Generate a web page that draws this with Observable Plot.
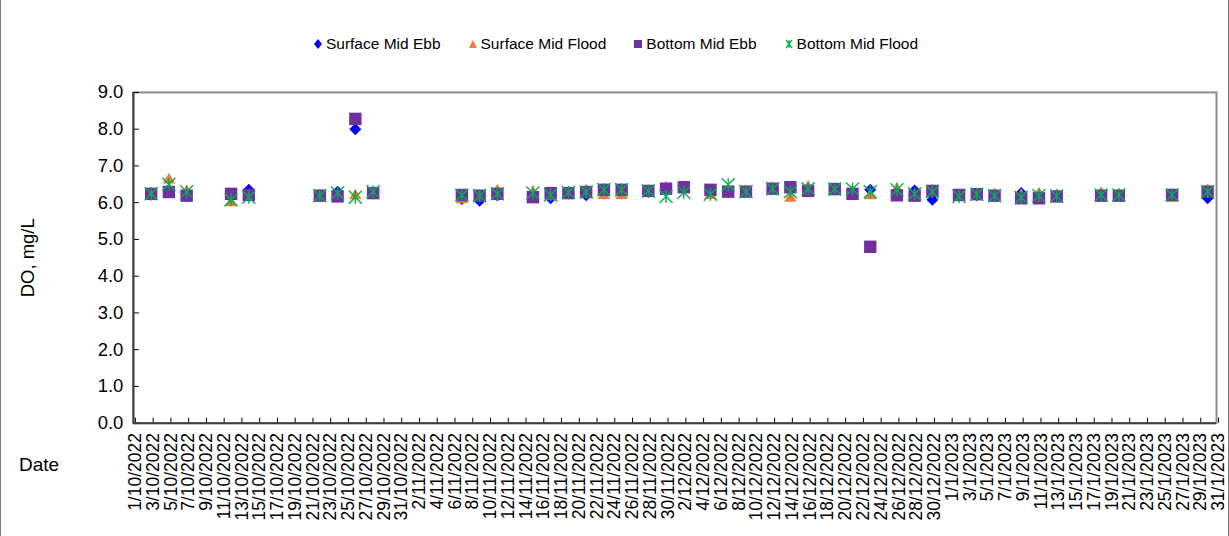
<!DOCTYPE html>
<html>
<head>
<meta charset="utf-8">
<script src="https://cdn.jsdelivr.net/npm/d3@7"></script>
<script src="https://cdn.jsdelivr.net/npm/@observablehq/plot@0.6"></script>
<style>
  html, body { margin: 0; padding: 0; background: #fff; }
  #wrap { position: relative; width: 1229px; height: 536px; box-sizing: border-box;
          border-left: 1px solid #7f7f7f; border-right: 1px solid #7f7f7f; overflow: hidden;
          font-family: "Liberation Sans", Arial, sans-serif; }
  #chart { position: absolute; left: -1px; top: 0; }
  #legend { position: absolute; top: 35px; left: 0; width: 1229px; display: flex; justify-content: center;
            gap: 27px; font-size: 15.5px; color: #000; }
  #legend .item { display: flex; align-items: center; gap: 3px; }
  #datelabel { position: absolute; left: 18px; top: 454px; font-size: 19px; color: #000; }
</style>
</head>
<body>
<div id="wrap">
  <div id="chart"></div>
  <div id="legend"></div>
  <div id="datelabel">Date</div>
</div>
<script>
const dates = ["2022-10-03","2022-10-05","2022-10-07","2022-10-12","2022-10-14","2022-10-22","2022-10-24","2022-10-26","2022-10-28",
"2022-11-07","2022-11-09","2022-11-11","2022-11-15","2022-11-17","2022-11-19","2022-11-21","2022-11-23","2022-11-25","2022-11-28","2022-11-30",
"2022-12-02","2022-12-05","2022-12-07","2022-12-09","2022-12-12","2022-12-14","2022-12-16","2022-12-19","2022-12-21","2022-12-23","2022-12-26","2022-12-28","2022-12-30",
"2023-01-02","2023-01-04","2023-01-06","2023-01-09","2023-01-11","2023-01-13","2023-01-18","2023-01-20","2023-01-26","2023-01-30"];

const surfaceMidEbb = [6.22,6.30,6.20,6.20,6.35,6.20,6.30,8.00,6.25,
6.10,6.05,6.20,6.15,6.12,6.25,6.20,6.25,6.25,6.30,6.35,
6.40,6.30,6.30,6.30,6.38,6.35,6.35,6.38,6.30,6.35,6.25,6.33,6.08,
6.20,6.20,6.18,6.26,6.22,6.18,6.20,6.20,6.20,6.12];

const surfaceMidFlood = [6.25,6.62,6.30,6.00,6.20,6.15,6.20,6.19,6.22,
6.08,6.15,6.32,6.28,6.18,6.25,6.33,6.20,6.20,6.25,6.40,
6.40,6.20,6.30,6.30,6.38,6.12,6.42,6.33,6.30,6.19,6.37,6.20,6.32,
6.20,6.18,6.22,6.20,6.24,6.20,6.25,6.22,6.12,6.33];

const bottomMidEbb = [6.24,6.29,6.19,6.24,6.21,6.19,6.17,8.28,6.26,
6.21,6.19,6.24,6.15,6.26,6.26,6.29,6.35,6.35,6.32,6.38,
6.42,6.35,6.30,6.30,6.38,6.42,6.32,6.37,6.24,4.80,6.20,6.19,6.32,
6.21,6.23,6.19,6.12,6.12,6.17,6.19,6.19,6.21,6.30];

const bottomMidFlood = [6.24,6.50,6.30,6.08,6.15,6.19,6.26,6.15,6.30,
6.20,6.19,6.24,6.26,6.21,6.28,6.29,6.35,6.35,6.32,6.17,
6.28,6.23,6.49,6.30,6.38,6.30,6.38,6.37,6.37,6.30,6.35,6.24,6.30,
6.17,6.23,6.19,6.14,6.19,6.18,6.21,6.21,6.21,6.30];

const seriesNames = ["Surface Mid Ebb","Surface Mid Flood","Bottom Mid Ebb","Bottom Mid Flood"];
const seriesColors = ["#0000ff","#ed7d31","#7030a0","#00b050"];
const yTicks = [0,1,2,3,4,5,6,7,8,9];
const xStart = "2022-10-01", xEnd = "2023-01-31";

const parse = d3.utcParse("%Y-%m-%d");
const fmt = d3.utcFormat("%-d/%-m/%Y");
const start = parse(xStart), end = parse(xEnd);
const nTicks = d3.utcDay.count(start, end) / 2;
const xTicks = d3.range(nTicks + 1).map(i => d3.utcDay.offset(start, 2 * i));

const row = (arr) => dates.map((d, i) => ({date: parse(d), value: arr[i]}));

// Excel-like star marker: X plus vertical bar
const starSymbol = {
  draw(ctx, size) {
    const r = Math.sqrt(size / Math.PI);
    ctx.moveTo(-r, -r); ctx.lineTo(r, r);
    ctx.moveTo(-r, r); ctx.lineTo(r, -r);
    ctx.moveTo(0, -r); ctx.lineTo(0, r);
  }
};

const chart = Plot.plot({
  width: 1229,
  height: 536,
  marginTop: 92,
  marginBottom: 113,
  marginLeft: 133,
  marginRight: 12,
  style: {fontFamily: "'Liberation Sans', Arial, sans-serif", fontSize: "18px", color: "#000", background: "transparent"},
  x: {type: "utc", domain: [start, end]},
  y: {domain: [0, 9]},
  marks: [
    Plot.frame({stroke: "#8c8c8c", strokeWidth: 2}),
    Plot.axisY({ticks: yTicks, tickFormat: d => d.toFixed(1), tickSize: -6, tickPadding: 16, fontSize: 18.5,
                label: "DO, mg/L", labelAnchor: "center", labelArrow: "none", labelOffset: 113}),
    Plot.axisX({ticks: xTicks, tickFormat: fmt, tickRotate: -90, tickSize: -5, tickPadding: 15, fontSize: 17.5, dx: 2, label: null}),
    Plot.ruleX([start], {stroke: "#404040", strokeWidth: 2}),
    Plot.ruleY([0], {stroke: "#404040", strokeWidth: 2}),
    Plot.dot(row(surfaceMidEbb), {x: "date", y: "value", symbol: "diamond2", r: 5.4, fill: seriesColors[0], stroke: "none"}),
    Plot.dot(row(surfaceMidFlood), {x: "date", y: "value", symbol: "triangle", r: 4.6, fill: seriesColors[1], stroke: "none"}),
    Plot.dot(row(bottomMidEbb), {x: "date", y: "value", symbol: "square", r: 7, fill: seriesColors[2], stroke: "none"}),
    Plot.dot(row(bottomMidFlood), {x: "date", y: "value", symbol: starSymbol, r: 6.5, stroke: seriesColors[3], strokeWidth: 1.4, fill: "none"})
  ]
});
document.getElementById("chart").appendChild(chart);

// legend
const legendIcons = [
  '<svg width="10" height="12"><path d="M5,1L9,6L5,11L1,6Z" fill="#0000ff"/></svg>',
  '<svg width="10" height="12"><path d="M5,2L9,10L1,10Z" fill="#ed7d31"/></svg>',
  '<svg width="10" height="12"><rect x="1" y="2" width="8" height="8" fill="#7030a0"/></svg>',
  '<svg width="10" height="12"><path d="M2,2L8,10M2,10L8,2M5,2L5,10" stroke="#00b050" stroke-width="1.3"/></svg>'
];
const legend = document.getElementById("legend");
seriesNames.forEach((name, i) => {
  const item = document.createElement("div");
  item.className = "item";
  item.innerHTML = legendIcons[i] + "<span>" + name + "</span>";
  legend.appendChild(item);
});
</script>
</body>
</html>
